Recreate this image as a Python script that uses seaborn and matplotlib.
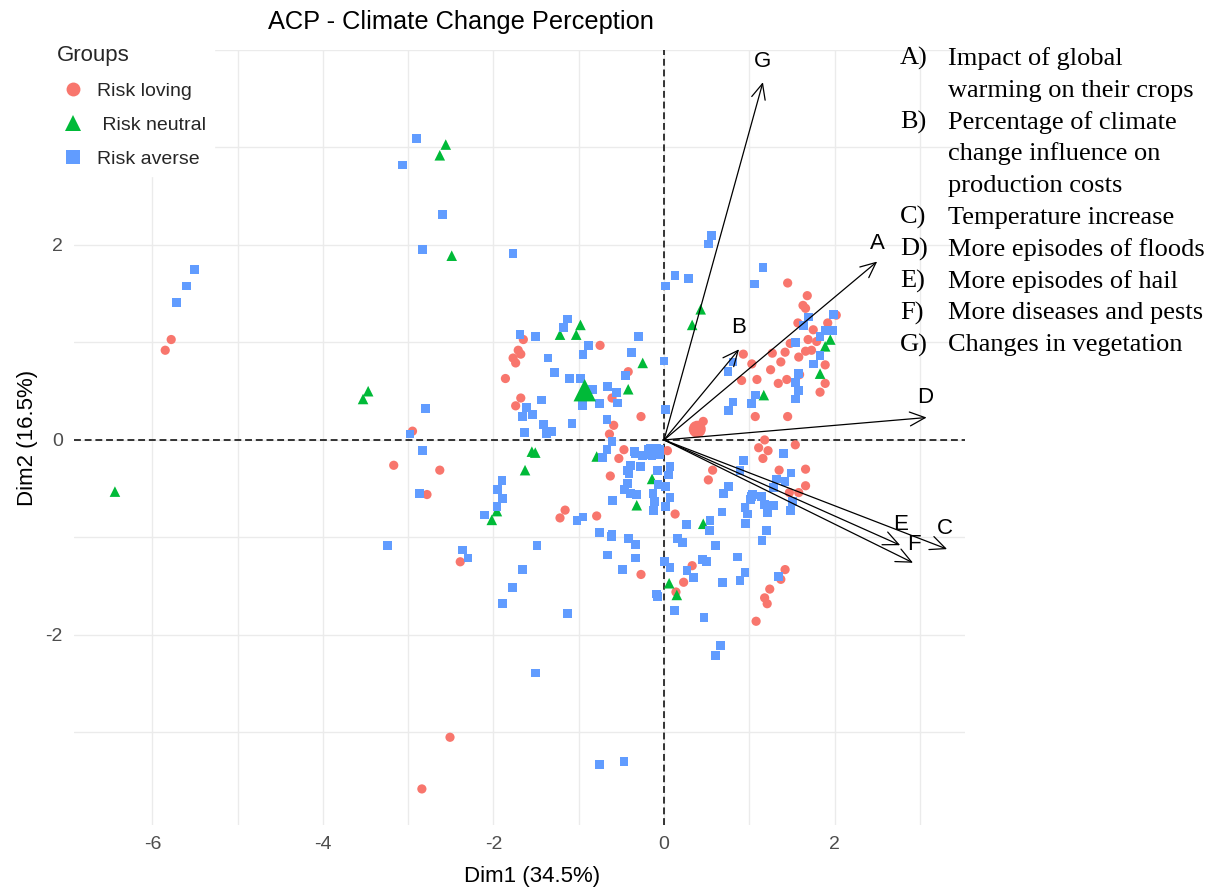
import matplotlib
matplotlib.use("Agg")
import matplotlib.pyplot as plt
import seaborn as sns
import pandas as pd
from matplotlib.lines import Line2D

# ---------------- data ----------------
loving_x = [-5.85, -5.78, -3.17, -2.95, -2.63, -2.78, -2.39, -2.51, -2.84,
            -1.65, -1.71, -1.68, -1.77, -1.74, -1.86, -1.68, -1.74,
            -0.75, -0.42, -0.61, -0.27, -0.59, -0.64, -0.47, -0.53, -0.63,
            -1.16, -1.22, -0.79, -0.27, 0.14, 0.04, 0.13,
            0.46, 0.40, 0.57, 0.52, 1.03, 0.91, 1.07,
            1.45, 1.68, 1.63, 1.66, 1.57, 1.75, 1.92, 2.02, 1.69, 1.79,
            1.48, 1.42, 1.27, 1.66, 1.73, 1.58, 1.37, 0.93, 1.25, 1.59,
            1.89, 1.89, 1.83, 1.44, 1.34, 1.09, 1.45,
            1.18, 1.11, 1.22, 1.54, 1.16, 1.35, 1.66, 1.66, 1.58, 1.47,
            0.33, 0.23, 1.42, 1.37, 1.24, 1.18, 1.21, 1.08]
loving_y = [0.92, 1.03, -0.26, 0.09, -0.31, -0.56, -1.25, -3.05, -3.58,
            1.03, 0.92, 0.88, 0.84, 0.79, 0.63, 0.43, 0.35,
            0.97, 0.70, 0.43, 0.24, 0.15, 0.06, -0.10, -0.19, -0.37,
            -0.72, -0.80, -0.78, -1.38, -1.56, -0.11, -0.76,
            0.19, 0.14, -0.31, -0.41, 0.78, 0.61, 0.24,
            1.61, 1.48, 1.38, 1.35, 1.20, 1.13, 1.20, 1.28, 1.03, 1.01,
            0.99, 0.90, 0.89, 0.91, 0.92, 0.85, 0.80, 0.88, 0.72, 0.67,
            0.77, 0.58, 0.49, 0.62, 0.58, 0.62, 0.24,
            0.00, -0.08, -0.11, -0.05, -0.19, -0.31, -0.30, -0.47, -0.54, -0.54,
            -1.29, -1.46, -1.33, -1.43, -1.53, -1.62, -1.68, -1.86]

neutral_x = [-6.44, -3.47, -3.53, -2.56, -2.63, -2.49, -0.98, -1.22, -1.03, -0.25,
             -0.42, -1.55, -1.51, -1.63, -1.96, -2.02, -0.79, -0.14, -0.32, 0.06,
             0.15, 0.46, 0.43, 0.33, 1.95, 1.89, 1.83, 1.17]
neutral_y = [-0.53, 0.50, 0.42, 3.03, 2.92, 1.89, 1.18, 1.08, 1.08, 0.79,
             0.52, -0.12, -0.13, -0.31, -0.73, -0.82, -0.17, -0.40, -0.67, -1.47,
             -1.59, -0.86, 1.34, 1.18, 1.03, 0.96, 0.68, 0.46]

averse_x = [-5.51, -5.60, -5.72, -3.07, -2.90, -2.60, -2.83, -1.77, -2.80, -2.98,
            -3.24, -2.83, -2.87, -2.36, -2.30, -1.90, -1.95, -1.89, -1.96, -2.11,
            -1.49, -1.66, -1.78, -1.89, -1.13, -1.51, -0.76, -0.47, 0.12, 0.47,
            0.66, 0.60, -0.08, -1.69, -1.51, -1.13, -1.18, -0.89, -0.95, -0.30,
            -0.38, -0.45, -1.36, -1.28, -1.11, -0.98, -0.84, -0.66, -0.56, -0.55,
            -0.76, -0.96, -1.44, -1.61, -1.66, -1.54, -1.41, -1.32, -1.38, -1.64,
            -1.08, -0.67, 0.00, 0.02, 0.13, 0.02, -0.61, -0.67, -0.72, -0.34,
            -0.25, -0.18, -0.11, -0.05, -0.14, -0.05, -0.39, -0.28, -0.08, 0.07,
            0.05, -0.41, -0.43, -0.46, -0.39, -0.32, -0.13, -0.07, 0.02, -0.11,
            0.07, 0.02, -0.13, -0.60, -0.95, -1.02, -0.76, -0.61, 0.26, 0.54,
            0.53, 0.68, 0.76, 0.70, 0.93, 0.89, 0.95, 1.03, 0.81, 0.75,
            0.81, 1.03, -0.35, -0.42, -0.33, -0.66, -0.33, -0.49, -0.09, 0.01,
            0.07, -0.43, -0.12, -0.62, 1.40, 1.49, 1.32, 1.42, 1.28, 1.04,
            1.01, 1.14, 1.18, 1.28, 1.21, 0.98, 0.96, 1.51, 1.48, 1.20,
            1.15, 0.86, 0.60, 0.16, 0.22, 0.45, 0.50, 0.27, 0.35, 0.69,
            0.89, 0.95, 1.34, 0.56, 0.52, 0.29, 1.16, 1.06, 1.69, 1.64,
            1.99, 1.98, 1.89, 1.83, 1.54, 1.83, 1.75, 1.58, 1.54, 1.58,
            1.54, 1.07, 0.76]
averse_y = [1.75, 1.58, 1.41, 2.82, 3.09, 2.31, 1.95, 1.91, 0.32, 0.06,
            -1.08, -0.11, -0.55, -1.13, -1.21, -0.42, -0.51, -0.60, -0.68, -0.77,
            -1.08, -1.33, -1.51, -1.68, -1.78, -2.39, -3.33, -3.30, -1.75, -1.82,
            -2.11, -2.21, -1.61, 1.08, 1.06, 1.24, 1.15, 0.97, 0.88, 1.06,
            0.90, 0.66, 0.84, 0.69, 0.63, 0.63, 0.52, 0.55, 0.49, 0.38,
            0.37, 0.35, 0.41, 0.33, 0.24, 0.26, 0.16, 0.09, 0.07, 0.08,
            0.17, 0.21, 0.81, 1.58, 1.69, 0.31, -0.02, -0.10, -0.18, -0.14,
            -0.16, -0.10, -0.10, -0.10, -0.16, -0.15, -0.26, -0.27, -0.31, -0.27,
            -0.36, -0.35, -0.45, -0.51, -0.55, -0.56, -0.55, -0.46, -0.48, -0.63,
            -0.59, -0.68, -0.73, -0.62, -0.79, -0.83, -0.95, -0.97, -0.87, -0.83,
            -0.93, -0.74, -0.48, -0.55, -0.21, -0.31, -0.69, -0.58, 0.39, 0.70,
            0.80, 0.37, -0.12, -1.01, -1.07, -1.18, -1.21, -1.33, -1.58, -1.25,
            -1.31, -0.31, -0.72, -0.99, -0.14, -0.34, -0.40, -0.43, -0.49, -0.56,
            -0.61, -0.58, -0.66, -0.67, -0.75, -0.76, -0.86, -0.63, -0.72, -0.93,
            -1.03, -1.20, -1.08, -1.01, -1.05, -1.23, -1.25, -1.34, -1.41, -1.46,
            -1.44, -1.36, -1.40, 2.10, 2.01, 1.66, 1.77, 1.60, 1.26, 1.17,
            1.29, 1.12, 1.12, 1.06, 1.00, 0.87, 0.78, 0.68, 0.59, 0.51,
            0.42, 0.46, 0.30]

groups = ["Risk loving", "Risk neutral", "Risk averse"]
mean_x = [0.39, -0.93, -0.12]
mean_y = [0.11, 0.51, -0.12]

var_keys = ["A", "B", "C", "D", "E", "F", "G"]
arrow_x = [2.50, 0.88, 3.32, 3.08, 2.77, 2.92, 1.16]
arrow_y = [1.83, 0.93, -1.12, 0.23, -1.08, -1.26, 3.67]
label_x = [2.50, 0.87, 3.29, 3.06, 2.77, 2.93, 1.16]
label_y = [2.01, 1.15, -0.91, 0.44, -0.87, -1.07, 3.88]

key_labels = ["A)", "B)", "C)", "D)", "E)", "F)", "G)"]
key_texts = [["Impact of global", "warming on their crops"],
             ["Percentage of climate", "change influence on", "production costs"],
             ["Temperature increase"],
             ["More episodes of floods"],
             ["More episodes of hail"],
             ["More diseases and pests"],
             ["Changes in vegetation"]]

title = "ACP - Climate Change Perception"
xlabel = "Dim1 (34.5%)"
ylabel = "Dim2 (16.5%)"
x_major = [-6, -4, -2, 0, 2]
x_minor = [-5, -3, -1, 1, 3]
y_major = [-2, 0, 2]
y_minor = [-3, -1, 1, 3, 4]

# ---------------- styling ----------------
sns.set_theme(style="white")
plt.rcParams['font.family'] = ['Liberation Sans', 'DejaVu Sans']
plt.rcParams['axes.unicode_minus'] = False

palette = {"Risk loving": "#F8766D", "Risk neutral": "#00BA38", "Risk averse": "#619CFF"}
markers = {"Risk loving": "o", "Risk neutral": "^", "Risk averse": "s"}
sizes = {"Risk loving": 44, "Risk neutral": 58, "Risk averse": 40}
mean_sizes = {"Risk loving": 150, "Risk neutral": 260, "Risk averse": 120}

W, H = 1215, 889
fig = plt.figure(figsize=(W / 100, H / 100), dpi=100)
ax = fig.add_axes([74 / W, (H - 825) / H, 891 / W, 775 / H])

df = pd.DataFrame({
    "Dim1": loving_x + neutral_x + averse_x,
    "Dim2": loving_y + neutral_y + averse_y,
    "group": ([groups[0]] * len(loving_x) + [groups[1]] * len(neutral_x)
              + [groups[2]] * len(averse_x)),
})
mdf = pd.DataFrame({"Dim1": mean_x, "Dim2": mean_y, "group": groups})

sns.scatterplot(data=df, x="Dim1", y="Dim2", hue="group", style="group",
                size="group", sizes=sizes, palette=palette, markers=markers,
                linewidth=0, ax=ax, legend=False, zorder=3)
sns.scatterplot(data=mdf, x="Dim1", y="Dim2", hue="group", style="group",
                size="group", sizes=mean_sizes, palette=palette, markers=markers,
                linewidth=0, ax=ax, legend=False, zorder=3)

ax.axhline(0, color="black", lw=1.1, ls=(0, (4.5, 2.5)), zorder=2)
ax.axvline(0, color="black", lw=1.1, ls=(0, (4.5, 2.5)), zorder=2)

for k, ax_, ay_, lx, ly in zip(var_keys, arrow_x, arrow_y, label_x, label_y):
    ax.annotate("", xy=(ax_, ay_), xytext=(0, 0),
                arrowprops=dict(arrowstyle="->,head_length=0.55,head_width=0.25",
                                color="black", lw=0.9, shrinkA=0, shrinkB=0,
                                mutation_scale=20), zorder=4)
    ax.text(lx, ly, k, ha="center", va="center", fontsize=16, color="black", zorder=5)

ax.set_xlim(-6.92, 3.53)
ax.set_ylim(-3.95, 4.0)
ax.set_xticks(x_major)
ax.set_xticks(x_minor, minor=True)
ax.set_yticks(y_major)
ax.set_yticks(y_minor, minor=True)
ax.grid(True, which="both", color="#EBEBEB", lw=1.0)
ax.set_axisbelow(True)
for s in ax.spines.values():
    s.set_visible(False)
ax.tick_params(which="major", length=4, width=1.0, color="#333333",
               labelcolor="#4D4D4D", labelsize=14, pad=4)
ax.tick_params(which="minor", length=0)

ax.set_xlabel(xlabel, fontsize=16, color="black")
ax.set_ylabel(ylabel, fontsize=16, color="black")
ax.xaxis.set_label_coords((532 - 74) / 891, -(866 - 825) / 775)
ax.yaxis.set_label_coords(-(74 - 38) / 891, 0.5)

fig.text(268 / W, 1 - 22 / H, title, ha="left", va="center", fontsize=18.3, color="black")

# legend
handles = [Line2D([], [], ls="", marker=markers[g], color=palette[g],
                  markersize=(11 if g == "Risk neutral" else 10), markeredgewidth=0)
           for g in groups]
leg = fig.legend(handles, ["Risk loving", " Risk neutral", "Risk averse"],
                 title="Groups", loc="upper left",
                 bbox_to_anchor=(49 / W, 1 - 37 / H), frameon=True,
                 facecolor="white", edgecolor="white", framealpha=1,
                 fontsize=14, title_fontsize=16, labelspacing=0.85,
                 handlelength=1.62, handletextpad=0.45, borderpad=0.4,
                 borderaxespad=0)
leg._legend_box.align = "left"

# right-hand key text
serif = ["Liberation Serif", "DejaVu Serif"]
baseline = 65
step = 31.8
row = 0
for lab, lines in zip(key_labels, key_texts):
    fig.text(900 / W, 1 - (baseline + row * step) / H, lab, ha="left",
             va="baseline", fontsize=19, family=serif, color="black")
    for ln in lines:
        fig.text(948 / W, 1 - (baseline + row * step) / H, ln, ha="left",
                 va="baseline", fontsize=19, family=serif, color="black")
        row += 1

fig.savefig("out.png", dpi=100, facecolor="white")
